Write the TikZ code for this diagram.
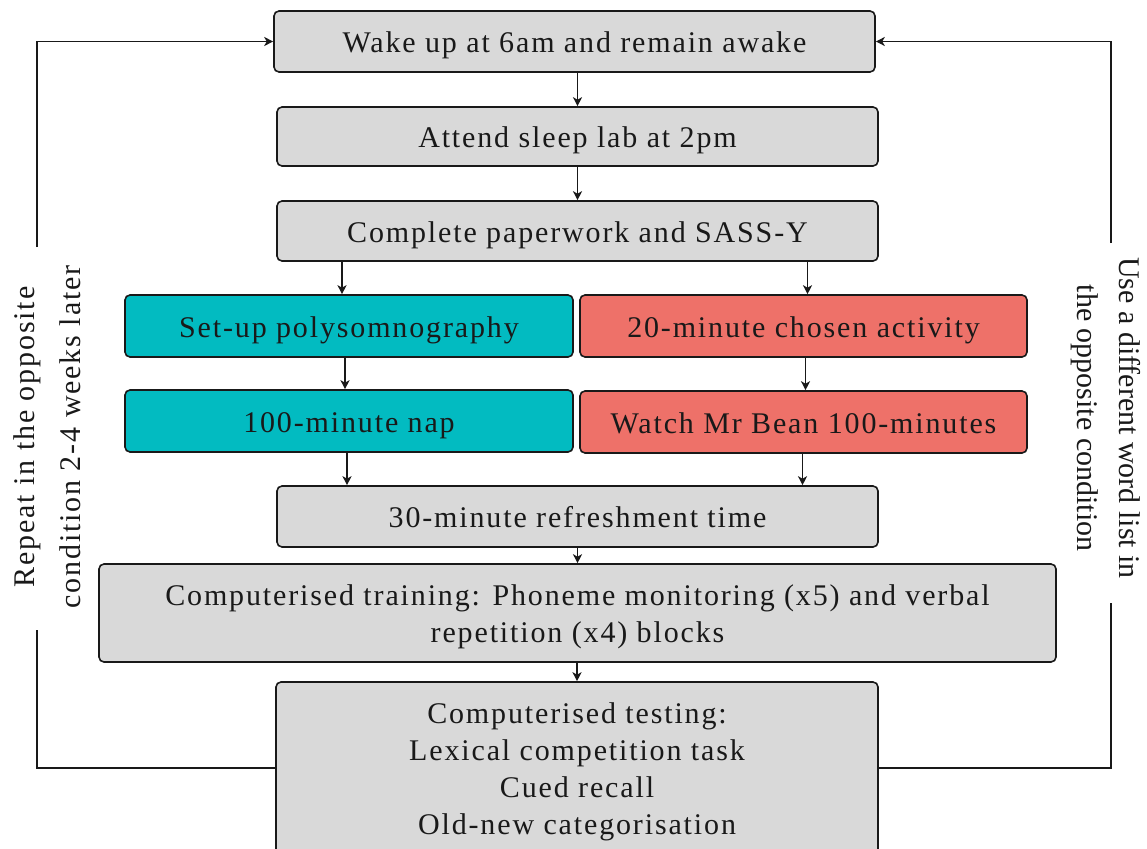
\documentclass[tikz,border=0pt]{standalone}
\usepackage{fontspec}
\setmainfont{Liberation Serif}[LetterSpace=6.2]
\newfontfamily\plainserif{Liberation Serif}
\usetikzlibrary{arrows.meta}
\definecolor{boxgray}{RGB}{217,217,217}
\definecolor{tealbox}{RGB}{2,187,193}
\definecolor{salmonbox}{RGB}{238,113,105}
\newcommand\topstrut{\rule{0pt}{30pt}}
\newcommand\botstrut{\rule[-8pt]{0pt}{0pt}}
\begin{document}
\begin{tikzpicture}[x=1pt,y=-1pt,
  basebox/.style={draw=black!90, line width=1.6pt, rounded corners=5pt, inner sep=0pt,
    align=center, font=\fontsize{30}{36.7}\selectfont, text=black!90,
    execute at begin node=\topstrut,
    execute at end node=\botstrut},
  gbox/.style={basebox, fill=boxgray},
  tbox/.style={basebox, fill=tealbox},
  rbox/.style={basebox, fill=salmonbox},
  arr/.style={line width=1.4pt, draw=black!90, -{Stealth[length=9pt,width=9pt,inset=2.5pt]}},
  fline/.style={line width=1.5pt, draw=black!90},
  sidetext/.style={align=center, text=black!90, inner sep=0pt}]
\useasboundingbox (0,0) rectangle (1147,848);
\clip (0,0) rectangle (1147,848);

\node[gbox, minimum width=601pt, minimum height=61pt] (b1) at (574.5,41.5) {Wake up at 6am and remain awake};
\node[gbox, minimum width=601pt, minimum height=59pt] (b2) at (577.5,136.5) {Attend sleep lab at 2pm};
\node[gbox, minimum width=601pt, minimum height=60pt] (b3) at (577.5,231) {Complete paperwork and SASS-Y};
\node[tbox, minimum width=448pt, minimum height=62pt] (t1) at (349,326) {Set-up polysomnography};
\node[tbox, minimum width=448pt, minimum height=62pt] (t2) at (349,421) {100-minute nap};
\node[rbox, minimum width=447pt, minimum height=62pt] (r1) at (803.5,326) {20-minute chosen activity};
\node[rbox, minimum width=447pt, minimum height=62pt] (r2) at (803.5,422) {Watch Mr Bean 100-minutes};
\node[gbox, minimum width=601pt, minimum height=61pt] (b30) at (577.5,516.5) {30-minute refreshment time};
\node[gbox, minimum width=957pt, minimum height=98pt] (train) at (577.5,613) {\topstrut Computerised training: Phoneme monitoring (x5) and verbal\\repetition (x4) blocks\botstrut};
\node[gbox, minimum width=602pt, minimum height=172pt] (test) at (577,768) {\topstrut Computerised testing:\\Lexical competition task\\Cued recall\\Old-new categorisation\botstrut};

\node[sidetext, rotate=90, font=\fontsize{30}{46.5}\selectfont] (ltext) at (47,437) {Repeat in the opposite\\condition 2-4 weeks later};
\node[sidetext, rotate=-90, font=\plainserif\fontsize{30}{41.5}\selectfont] (rtext) at (1106,418) {Use a different word list in\\the opposite condition};

\coordinate (ltop) at (37,247);
\coordinate (lbot) at (37,630);
\coordinate (rtop) at (1111,243);
\coordinate (rbot) at (1111,603);

\draw[arr] (b1.south -| b2.north) -- (b2.north);
\draw[arr] (b2.south) -- (b3.north);
\draw[arr] ([xshift=-7pt]t1.north |- b3.south) -- ([xshift=-7pt]t1.north);
\draw[arr] ([xshift=4pt]r1.north |- b3.south) -- ([xshift=4pt]r1.north);
\draw[arr] ([xshift=-4pt]t1.south) -- ([xshift=-4pt]t2.north);
\draw[arr] ([xshift=2pt]r1.south) -- ([xshift=2pt]r2.north);
\draw[arr] ([xshift=-2pt]t2.south) -- ([xshift=-2pt]t2.south |- b30.north);
\draw[arr] ([xshift=-1pt]r2.south) -- ([xshift=-1pt]r2.south |- b30.north);
\draw[arr] (b30.south) -- (train.north);
\draw[arr] (train.south -| test.north) -- (test.north);

\draw[fline] (test.west) -| (lbot);
\draw[fline, arr] (ltop) |- (b1.west);
\draw[fline] (test.east) -| (rbot);
\draw[fline, arr] (rtop) |- (b1.east);
\end{tikzpicture}
\end{document}
